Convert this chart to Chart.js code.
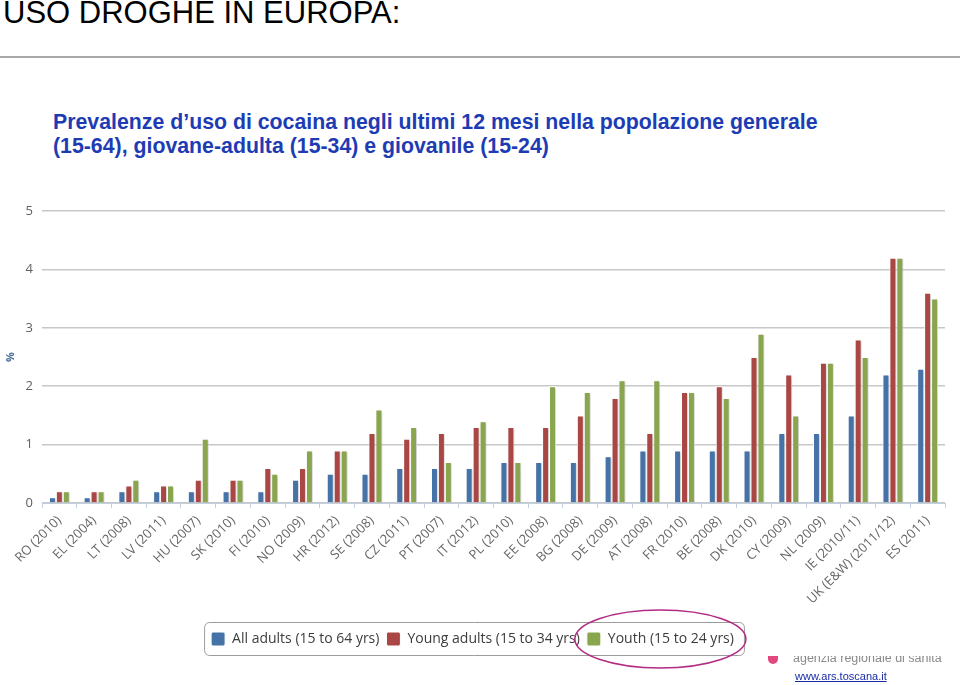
<!DOCTYPE html>
<html lang="it">
  <head>
    <meta charset="UTF-8" />
    <title>Uso droghe in Europa - cocaina</title>
    <script src="https://cdn.jsdelivr.net/npm/chart.js"></script>
    <style>
      body {
        margin: 0;
        width: 960px;
        height: 685px;
        overflow: hidden;
        background: #fff;
        position: relative;
        font-family: 'Liberation Sans', Arial, sans-serif;
      }
      .titolo {
        position: absolute;
        left: 3px;
        top: -2px;
        font-size: 31px;
        line-height: 30px;
        color: #000;
      }
      .riga {
        position: absolute;
        left: 0;
        top: 56px;
        width: 960px;
        border-top: 2px solid #a8a8a8;
      }
      .sottotitolo {
        position: absolute;
        left: 53px;
        top: 110px;
        font-size: 21.3px;
        line-height: 24px;
        font-weight: bold;
        color: #1d3cb4;
      }
      .chart-box {
        position: absolute;
        left: 0;
        top: 190px;
        width: 960px;
        height: 480px;
      }
      .ars {
        position: absolute;
        left: 768px;
        top: 656px;
        width: 192px;
        height: 29px;
      }
      .ars .punto {
        position: absolute;
        left: 0;
        top: 0;
        width: 10px;
        height: 8px;
        border-radius: 0 0 5px 5px;
        background: #e2487e;
      }
      .ars .nome {
        position: absolute;
        left: 25px;
        top: 0;
        height: 9px;
        overflow: hidden;
        font-size: 12.5px;
        line-height: 14px;
        color: #8a8a8a;
      }
      .ars .nome span {
        position: relative;
        top: -5px;
      }
      .ars a {
        position: absolute;
        left: 27px;
        top: 14px;
        font-size: 11px;
        line-height: 13px;
        color: #1a2ca6;
      }
    </style>
  </head>
  <body>
    <div class="titolo">USO DROGHE IN EUROPA:</div>
    <div class="riga"></div>
    <div class="sottotitolo">
      Prevalenze d’uso di cocaina negli ultimi 12 mesi nella popolazione generale<br />
      (15-64), giovane-adulta (15-34) e giovanile (15-24)
    </div>

    <div class="chart-box"><canvas id="grafico"></canvas></div>

    <div class="ars">
      <div class="punto"></div>
      <div class="nome"><span>agenzia regionale di sanità</span></div>
      <a href="#">www.ars.toscana.it</a>
    </div>

    <script>
      // Paesi (anno dell'indagine)
      const paesi = [
        'RO (2010)', 'EL (2004)', 'LT (2008)', 'LV (2011)', 'HU (2007)', 'SK (2010)',
        'FI (2010)', 'NO (2009)', 'HR (2012)', 'SE (2008)', 'CZ (2011)', 'PT (2007)',
        'IT (2012)', 'PL (2010)', 'EE (2008)', 'BG (2008)', 'DE (2009)', 'AT (2008)',
        'FR (2010)', 'BE (2008)', 'DK (2010)', 'CY (2009)', 'NL (2009)', 'IE (2010/11)',
        'UK (E&W) (2011/12)', 'ES (2011)'
      ]

      // prevalenza % ultimi 12 mesi
      const adulti = [0.1, 0.1, 0.2, 0.2, 0.2, 0.2, 0.2, 0.4, 0.5, 0.5, 0.6, 0.6, 0.6,
        0.7, 0.7, 0.7, 0.8, 0.9, 0.9, 0.9, 0.9, 1.2, 1.2, 1.5, 2.2, 2.3]
      const giovaniAdulti = [0.2, 0.2, 0.3, 0.3, 0.4, 0.4, 0.6, 0.6, 0.9, 1.2, 1.1, 1.2, 1.3,
        1.3, 1.3, 1.5, 1.8, 1.2, 1.9, 2.0, 2.5, 2.2, 2.4, 2.8, 4.2, 3.6]
      const giovani = [0.2, 0.2, 0.4, 0.3, 1.1, 0.4, 0.5, 0.9, 0.9, 1.6, 1.3, 0.7, 1.4,
        0.7, 2.0, 1.9, 2.1, 2.1, 1.9, 1.8, 2.9, 1.5, 2.4, 2.5, 4.2, 3.5]

      const etichetteSerie = ['All adults (15 to 64 yrs)', 'Young adults (15 to 34 yrs)', 'Youth (15 to 24 yrs)']
      const tickY = [0, 1, 2, 3, 4, 5]

      const colori = ['#4572a7', '#aa4643', '#89a54e']

      // ombra leggera sotto le barre
      const ombraBarre = {
        id: 'ombraBarre',
        beforeDatasetsDraw(chart) {
          const ctx = chart.ctx
          ctx.save()
          ctx.shadowColor = 'rgba(0, 0, 0, 0.2)'
          ctx.shadowOffsetX = 1
          ctx.shadowOffsetY = 1
          ctx.shadowBlur = 2
        },
        afterDatasetsDraw(chart) {
          chart.ctx.restore()
        },
      }

      // cornice della legenda + ellisse evidenziata
      const cornice = {
        id: 'cornice',
        afterDraw(chart) {
          const boxes = chart.legend.legendHitBoxes
          if (!boxes || !boxes.length) return
          const primo = boxes[0]
          const ultimo = boxes[boxes.length - 1]
          const ctx = chart.ctx
          const x0 = primo.left - 7
          const x1 = ultimo.left + ultimo.width + 10
          const y0 = primo.top - 10
          const y1 = primo.top + primo.height + 9
          ctx.save()
          ctx.strokeStyle = '#9c9c9c'
          ctx.lineWidth = 1
          ctx.beginPath()
          ctx.roundRect(x0 + 0.5, y0 + 0.5, x1 - x0, y1 - y0, 5)
          ctx.stroke()

          const cx = ultimo.left + ultimo.width / 2
          const cy = primo.top + primo.height / 2
          ctx.strokeStyle = '#b32a84'
          ctx.lineWidth = 1.5
          ctx.beginPath()
          ctx.ellipse(cx, cy, ultimo.width / 2 + 12, 29, 0, 0, Math.PI * 2)
          ctx.stroke()
          ctx.restore()
        },
      }

      const serie = [adulti, giovaniAdulti, giovani].map((valori, i) => ({
        label: etichetteSerie[i],
        data: valori,
        backgroundColor: colori[i],
        borderColor: '#ffffff',
        borderWidth: 1,
        borderSkipped: 'start',
        categoryPercentage: 0.6,
        barPercentage: 1.0,
      }))

      new Chart(document.getElementById('grafico'), {
        type: 'bar',
        data: { labels: paesi, datasets: serie },
        plugins: [ombraBarre, cornice],
        options: {
          responsive: true,
          maintainAspectRatio: false,
          animation: false,
          layout: { padding: { top: 21, right: 15, left: 0, bottom: 14 } },
          plugins: {
            tooltip: { enabled: false },
            legend: {
              position: 'bottom',
              labels: {
                boxWidth: 14,
                boxHeight: 14,
                padding: 7,
                useBorderRadius: true,
                borderRadius: 2,
                color: '#3d3d3d',
                font: { family: "'Open Sans', sans-serif", size: 14 },
              },
            },
          },
          scales: {
            x: {
              grid: {
                offset: true,
                drawOnChartArea: false,
                drawTicks: true,
                tickLength: 5,
                color: '#c0d0e0',
              },
              border: { color: '#c0d0e0' },
              ticks: {
                autoSkip: false,
                maxRotation: 45,
                minRotation: 45,
                padding: 5,
                color: '#666666',
                font: { family: "'Open Sans', sans-serif", size: 13 },
              },
              afterFit(scale) {
                scale.height = 122
              },
            },
            y: {
              min: 0,
              max: 5,
              afterBuildTicks(scale) {
                scale.ticks = tickY.map((v) => ({ value: v }))
              },
              grid: { color: '#c8c8c8', lineWidth: 1.5, drawTicks: false },
              border: { display: false },
              ticks: {
                padding: 9,
                color: '#606060',
                font: { family: "'Open Sans', sans-serif", size: 13 },
              },
              title: {
                display: true,
                text: '%',
                color: '#4d6d9a',
                padding: 4,
                font: { family: "'Open Sans', sans-serif", size: 11, weight: 'bold' },
              },
              afterFit(scale) {
                scale.width = 42
              },
            },
          },
        },
      })
    </script>
  </body>
</html>
